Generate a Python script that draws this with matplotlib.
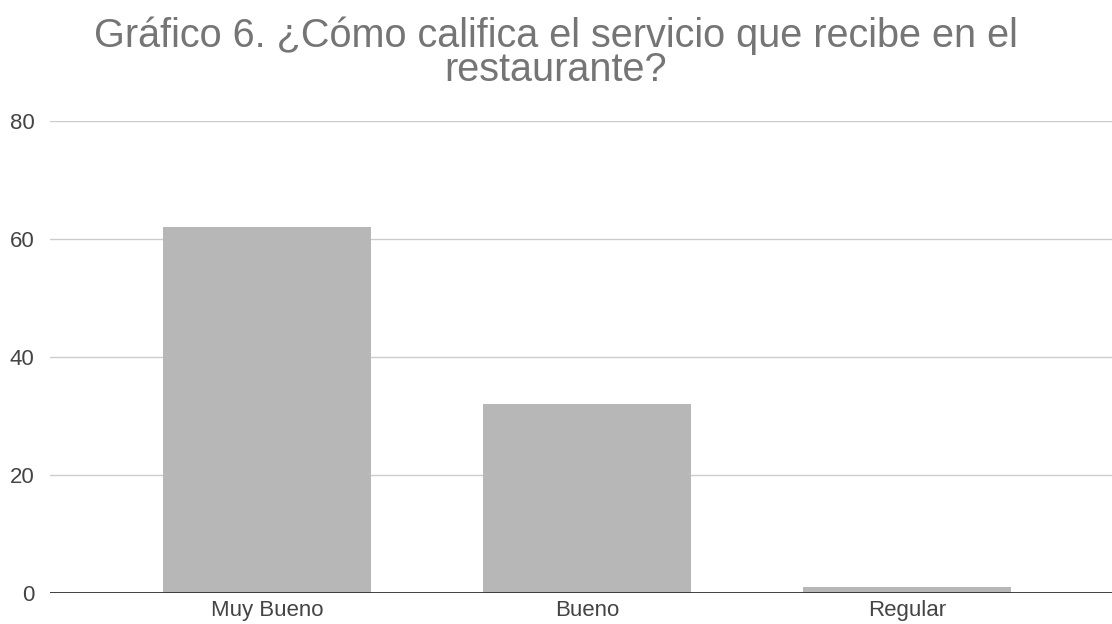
import matplotlib
matplotlib.use("Agg")
import matplotlib.pyplot as plt

categories = ["Muy Bueno", "Bueno", "Regular"]
values = [62, 32, 1]
yticks = [0, 20, 40, 60, 80]
title = "Gráfico 6. ¿Cómo califica el servicio que recibe en el\nrestaurante?"

plt.rcParams['font.family'] = ['Liberation Sans', 'DejaVu Sans']

fig = plt.figure(figsize=(11.12, 6.24), dpi=100)
ax = fig.add_axes([50/1112, 1 - 592.7/624, 1 - 50/1112, (592.7 - 121.3)/624])

x = list(range(len(categories)))
ax.bar(x, values, width=0.65, color="#b7b7b7", zorder=3)
ax.set_xlim(-0.678, 2.64)
ax.set_ylim(0, 80)
ax.set_yticks(yticks)
ax.set_xticks(x)
ax.set_xticklabels(categories)
ax.yaxis.grid(True, color="#cccccc", linewidth=1.0, zorder=0)
ax.axhline(0, color="#333333", linewidth=1.3, zorder=4)
for s in ax.spines.values():
    s.set_visible(False)
ax.tick_params(axis='both', length=0, labelsize=16, labelcolor="#444444")
ax.tick_params(axis='y', pad=11)
ax.tick_params(axis='x', pad=5)

fig.text(0.5, 1 - 81/624, title, ha='center', va='baseline', fontsize=28.5,
         color="#757575", linespacing=0.88, multialignment='center')

fig.savefig("out.png", dpi=100)
